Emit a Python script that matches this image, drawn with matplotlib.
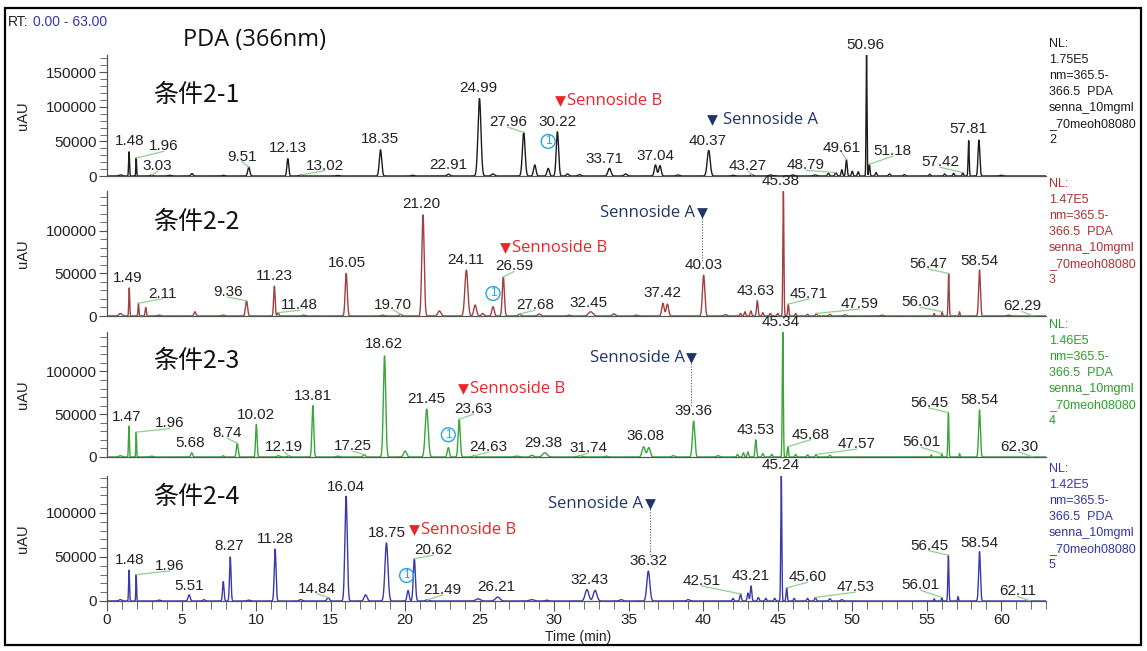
import matplotlib

matplotlib.use("Agg")
import matplotlib.pyplot as plt
import numpy as np
from matplotlib import patches

plt.rcParams["font.family"] = ["Liberation Sans", "DejaVu Sans"]

W_PX, H_PX = 1147, 651
T_MAX = 63.0

PANEL_NAMES = ["条件2-1", "条件2-2", "条件2-3", "条件2-4"]
NL = [1.75e5, 1.47e5, 1.46e5, 1.42e5]
NL_TEXT = ["1.75E5", "1.47E5", "1.46E5", "1.42E5"]
FILE_SUFFIX = ["2", "3", "4", "5"]
TRACE_COLORS = ["#1c1c1c", "#a04040", "#3aa53a", "#3a3aaa"]
INFO_COLORS = ["#1c1c1c", "#b03030", "#2aa02a", "#3535a8"]

# peaks: retention time (min), height (uAU), width (sigma, min)
P1_RT = [0.9, 1.48, 1.96, 3.0, 4.2, 5.7, 7.8, 9.51, 12.13, 13.0, 15.5, 18.35,
         20.5, 22.91, 24.99, 25.9, 27.96, 28.7, 29.6, 30.22, 30.9, 31.7,
         33.71, 34.8, 36.8, 37.1, 38.3, 40.37, 42.0, 43.27, 44.5, 46.0,
         47.5, 48.4, 48.9, 49.3, 49.61, 50.0, 50.4, 50.96, 51.15, 51.6,
         52.5, 53.5, 55.2, 56.2, 56.8, 57.42, 57.81, 58.5, 60.0]
P1_H = [1500, 35000, 26000, 1500, 1000, 3500, 1000, 13000, 25000, 1500, 800,
        38000, 1000, 2500, 112000, 3000, 63000, 16000, 11000, 64000, 3000,
        2000, 11000, 3000, 16000, 15000, 1500, 37000, 1000, 2000, 1500, 1500,
        1500, 4000, 5000, 9000, 24000, 7000, 6000, 175000, 17000, 5000, 3000,
        2000, 2500, 3000, 4000, 5000, 51000, 52000, 1000]
P1_W = [0.1, 0.03, 0.025, 0.08, 0.1, 0.07, 0.08, 0.07, 0.06, 0.08, 0.1, 0.08,
        0.1, 0.1, 0.1, 0.1, 0.09, 0.08, 0.08, 0.08, 0.08, 0.1, 0.1, 0.1,
        0.08, 0.08, 0.1, 0.1, 0.1, 0.08, 0.1, 0.1, 0.1, 0.06, 0.06, 0.05,
        0.05, 0.05, 0.05, 0.03, 0.04, 0.05, 0.06, 0.06, 0.05, 0.05, 0.05,
        0.04, 0.035, 0.06, 0.1]

P2_RT = [0.9, 1.49, 2.11, 2.6, 3.5, 5.9, 7.8, 9.36, 11.23, 11.48, 13.2, 16.05,
         18.5, 19.70, 21.20, 22.3, 24.11, 24.7, 25.2, 25.9, 26.59, 27.68,
         29.0, 31.0, 32.45, 34.0, 35.5, 37.3, 37.6, 40.03, 41.5, 42.5, 42.8,
         43.2, 43.63, 44.0, 44.5, 45.0, 45.38, 45.71, 46.2, 47.0, 47.59, 48.5,
         49.5, 52.0, 55.5, 56.03, 56.47, 57.2, 58.54, 60.5]
P2_H = [3000, 33000, 15000, 10000, 1000, 5000, 1000, 18000, 35000, 4000, 1000,
        50000, 1000, 2000, 119000, 6000, 54000, 13000, 3000, 11000, 46000,
        2500, 2500, 1000, 5000, 2500, 1000, 15000, 14000, 48000, 1500, 3000,
        5000, 6000, 18000, 4000, 3000, 3000, 147000, 14000, 3000, 2000, 3000,
        2000, 1500, 1000, 3000, 5000, 50000, 5000, 54000, 1000]
P2_W = [0.1, 0.03, 0.03, 0.04, 0.1, 0.06, 0.1, 0.07, 0.05, 0.05, 0.1, 0.07,
        0.1, 0.08, 0.08, 0.1, 0.1, 0.09, 0.08, 0.08, 0.07, 0.08, 0.1, 0.1,
        0.15, 0.1, 0.1, 0.08, 0.08, 0.08, 0.1, 0.05, 0.05, 0.05, 0.05, 0.05,
        0.05, 0.05, 0.035, 0.04, 0.04, 0.05, 0.05, 0.06, 0.08, 0.1, 0.03,
        0.03, 0.035, 0.03, 0.06, 0.1]

P3_RT = [0.9, 1.47, 1.96, 3.0, 5.68, 7.8, 8.74, 10.02, 11.5, 12.19, 13.81,
         15.5, 17.25, 18.62, 20.0, 21.45, 22.9, 23.63, 24.63, 27.5, 28.5,
         29.38, 31.74, 33.5, 36.0, 36.35, 38.0, 39.36, 41.0, 42.3, 42.7, 43.0,
         43.53, 44.0, 44.6, 45.34, 45.68, 46.2, 47.0, 47.57, 48.5, 55.3, 56.01,
         56.45, 57.2, 58.54]
P3_H = [1500, 36000, 29000, 1000, 5000, 1500, 16000, 38000, 1500, 1500, 60000,
        1000, 3000, 118000, 7000, 56000, 11000, 44000, 1500, 1000, 2000, 5000,
        1500, 1000, 12000, 11000, 1500, 42000, 1500, 3000, 5000, 6000, 20000,
        4000, 3000, 146000, 12000, 3000, 2500, 3000, 2000, 2500, 4000, 52000,
        4000, 55000]
P3_W = [0.1, 0.03, 0.025, 0.1, 0.06, 0.05, 0.06, 0.05, 0.1, 0.08, 0.06, 0.1,
        0.08, 0.08, 0.1, 0.1, 0.07, 0.07, 0.1, 0.15, 0.1, 0.15, 0.15, 0.1,
        0.1, 0.1, 0.1, 0.08, 0.1, 0.05, 0.05, 0.05, 0.05, 0.05, 0.05, 0.035,
        0.04, 0.04, 0.05, 0.05, 0.06, 0.03, 0.03, 0.035, 0.03, 0.06]

P4_RT = [0.9, 1.48, 1.96, 3.5, 5.51, 6.5, 7.8, 8.27, 9.5, 11.28, 13.0, 14.84,
         16.04, 17.35, 18.75, 20.2, 20.62, 21.49, 24.9, 26.21, 28.5, 29.5,
         32.2, 32.75, 34.5, 36.32, 39.0, 42.0, 42.51, 43.0, 43.21, 43.7, 44.2,
         44.8, 45.24, 45.60, 46.1, 47.0, 47.53, 48.5, 49.3, 55.5, 56.01, 56.45,
         57.1, 58.54]
P4_H = [1500, 35000, 30000, 1000, 7000, 1500, 22000, 50000, 1000, 59000, 1500,
        4000, 119000, 7000, 66000, 12000, 48000, 1500, 2500, 4500, 1500, 1000,
        13000, 12000, 1500, 34000, 1500, 3000, 8000, 9000, 17000, 4000, 3000,
        3000, 142000, 15000, 3000, 3000, 4000, 2500, 1500, 2500, 4000, 52000,
        5000, 56000]
P4_W = [0.1, 0.03, 0.025, 0.1, 0.07, 0.08, 0.05, 0.05, 0.1, 0.06, 0.1, 0.08,
        0.08, 0.1, 0.1, 0.07, 0.07, 0.1, 0.15, 0.15, 0.15, 0.1, 0.12, 0.12,
        0.1, 0.1, 0.1, 0.05, 0.05, 0.05, 0.05, 0.05, 0.05, 0.05, 0.035, 0.04,
        0.04, 0.05, 0.05, 0.06, 0.08, 0.03, 0.03, 0.035, 0.03, 0.06]

# peak labels: text, x (min), y bottom (uAU), drawn with a leader line
P1_LABELS = [("1.48", 1.5, 40000, False), ("1.96", 3.8, 33000, True),
             ("3.03", 3.4, 4000, True), ("9.51", 9.06, 18000, True),
             ("12.13", 12.15, 30000, False), ("13.02", 14.6, 5000, True),
             ("18.35", 18.3, 43000, False), ("22.91", 22.9, 6000, False),
             ("24.99", 24.9, 117000, False), ("27.96", 26.9, 68000, True),
             ("30.22", 30.2, 68000, False), ("33.71", 33.4, 15000, False),
             ("37.04", 36.8, 19000, False), ("40.37", 40.3, 40000, False),
             ("43.27", 43.0, 5000, True), ("48.79", 46.9, 5500, True),
             ("49.61", 49.3, 31000, True), ("50.96", 50.9, 180000, False),
             ("51.18", 52.7, 26000, True), ("57.42", 55.9, 10000, True),
             ("57.81", 57.8, 58000, False)]
P2_LABELS = [("1.49", 1.4, 36000, False), ("2.11", 3.7, 18000, True),
             ("9.36", 8.1, 20000, True), ("11.23", 11.25, 39000, False),
             ("11.48", 12.9, 4500, True), ("16.05", 16.1, 54000, False),
             ("19.70", 19.2, 5000, True), ("21.20", 21.1, 123000, False),
             ("24.11", 24.1, 58000, False), ("26.59", 27.3, 50000, True),
             ("27.68", 28.7, 4500, True), ("32.45", 32.3, 7000, False),
             ("37.42", 37.3, 19000, False), ("40.03", 40.0, 52000, False),
             ("43.63", 43.5, 21000, False), ("45.38", 45.2, 150000, False),
             ("45.71", 47.1, 18000, True), ("47.59", 50.5, 6000, True),
             ("56.03", 54.6, 8000, True), ("56.47", 55.1, 53000, True),
             ("58.54", 58.5, 57000, False), ("62.29", 61.4, 3000, True)]
P3_LABELS = [("1.47", 1.34, 39000, False), ("1.96", 4.2, 31000, True),
             ("5.68", 5.6, 8000, False), ("8.74", 8.06, 20000, True),
             ("10.02", 9.97, 41000, False), ("12.19", 11.9, 3500, True),
             ("13.81", 13.8, 63000, False), ("17.25", 16.5, 4500, True),
             ("18.62", 18.6, 124000, False), ("21.45", 21.4, 59000, False),
             ("23.63", 24.6, 48000, True), ("24.63", 25.6, 3500, True),
             ("29.38", 29.3, 8000, False), ("31.74", 32.3, 2500, True),
             ("36.08", 36.1, 16000, False), ("39.36", 39.36, 45000, False),
             ("43.53", 43.5, 23000, False), ("45.34", 45.2, 150000, False),
             ("45.68", 47.2, 18000, True), ("47.57", 50.3, 7000, True),
             ("56.01", 54.65, 9000, True), ("56.45", 55.15, 55000, True),
             ("58.54", 58.5, 58000, False), ("62.30", 61.2, 3500, True)]
P4_LABELS = [("1.48", 1.55, 39000, False), ("1.96", 4.2, 32000, True),
             ("5.51", 5.5, 9000, False), ("8.27", 8.2, 54000, False),
             ("11.28", 11.3, 63000, False), ("14.84", 14.1, 6000, True),
             ("16.04", 16.0, 122000, False), ("18.75", 18.8, 69000, False),
             ("20.62", 21.9, 50000, True), ("21.49", 22.5, 4500, True),
             ("26.21", 26.1, 7500, False), ("32.43", 32.35, 16000, False),
             ("36.32", 36.3, 38000, False), ("42.51", 39.9, 15000, True),
             ("43.21", 43.2, 21000, False), ("45.24", 45.2, 147000, False),
             ("45.60", 47.0, 19000, True), ("47.53", 50.2, 8000, True),
             ("56.01", 54.6, 10000, True), ("56.45", 55.15, 55000, True),
             ("58.54", 58.5, 58000, False), ("62.11", 61.1, 3000, True)]

# sennoside markers: triangle x, y; which side the text sits on
SENNOSIDE_B = [(30.4, 108000), (26.7, 80000), (23.9, 79000), (20.6, 81000)]
SENNOSIDE_A = [(40.6, 81000, "right"), (39.9, 121000, "left"),
               (39.2, 116000, "left"), (36.4, 110000, "left")]
SENNOSIDE_A_DROP = [None, 64000, 58000, 52000]  # dotted line end
PEAK_ONE = [(29.6, 50000), (25.9, 26500), (22.9, 26000), (20.1, 29000)]
NAME_POS = [(3.1, 117000), (3.1, 110000), (3.1, 112000), (3.1, 118000)]

# layout in pixels of the reference
AX_LEFT, AX_RIGHT = 107, 1046
BASELINES = [176, 316, 457, 601]
HEIGHTS = [121, 125, 125, 125]

PEAKS = [(P1_RT, P1_H, P1_W), (P2_RT, P2_H, P2_W),
         (P3_RT, P3_H, P3_W), (P4_RT, P4_H, P4_W)]
LABELS = [P1_LABELS, P2_LABELS, P3_LABELS, P4_LABELS]

RED = "#e8262a"
NAVY = "#1f3569"
CYAN = "#22a6e0"
LEADER = "#8fd08f"
LATIN = ["Open Sans", "DejaVu Sans"]


def chromatogram(t, rts, hs, ws):
    y = np.zeros_like(t)
    for rt, h, w in zip(rts, hs, ws):
        y += h * np.exp(-0.5 * ((t - rt) / w) ** 2)
    return y


fig = plt.figure(figsize=(W_PX / 100, H_PX / 100), dpi=100)
t = np.arange(0.0, T_MAX + 0.0001, 0.005)

for i in range(4):
    bottom = 1 - BASELINES[i] / H_PX
    ax = fig.add_axes([AX_LEFT / W_PX, bottom, (AX_RIGHT - AX_LEFT) / W_PX,
                       HEIGHTS[i] / H_PX])
    rts, hs, ws = PEAKS[i]
    y = chromatogram(t, rts, hs, ws)
    ax.plot(t, y, color=TRACE_COLORS[i], lw=1.0)
    ax.set_xlim(0, T_MAX)
    ax.set_ylim(0, NL[i])
    for side in ("top", "right"):
        ax.spines[side].set_visible(False)
    for side in ("left", "bottom"):
        ax.spines[side].set_color("#555555")
        ax.spines[side].set_linewidth(0.9)
    ax.patch.set_alpha(0)

    ax.set_yticks([v for v in (0, 50000, 100000, 150000) if v <= NL[i]])
    ax.set_yticks(np.arange(0, NL[i], 10000), minor=True)
    ax.tick_params(axis="y", which="major", direction="out", length=6,
                   width=0.8, labelsize=11, colors="#555555",
                   labelcolor="#222222", pad=1)
    ax.tick_params(axis="y", which="minor", direction="out", length=5,
                   width=0.6, colors="#555555")
    ax.set_ylabel("uAU", fontsize=10.5, color="#222222")
    ax.yaxis.set_label_coords((30 - AX_LEFT) / (AX_RIGHT - AX_LEFT), 0.5)

    if i == 3:
        ax.set_xticks(np.arange(0, 61, 5))
        ax.set_xticks(np.arange(0, 64, 1), minor=True)
        ax.tick_params(axis="x", which="major", direction="out", length=7,
                       width=0.8, labelsize=11, colors="#555555",
                       labelcolor="#222222", pad=2)
        ax.tick_params(axis="x", which="minor", direction="out", length=6,
                       width=0.6, colors="#555555")
    else:
        ax.set_xticks([])

    # peak labels with leader lines to the local apex
    for text, lx, ly, lead in LABELS[i]:
        ax.text(lx, ly, text, ha="center", va="bottom", fontsize=11,
                color="#222222", clip_on=False)
        if lead:
            tp = float(text)
            near = np.abs(t - tp) <= 0.15
            k = np.argmax(np.where(near, y, -1.0))
            ax.plot([t[k], lx], [y[k], ly + NL[i] * 0.015], color=LEADER,
                    lw=0.9, clip_on=False)

    # sample name
    nx, ny = NAME_POS[i]
    ax.text(nx, ny, PANEL_NAMES[i], ha="left", va="center", fontsize=18,
            family=["Noto Sans CJK SC", "DejaVu Sans"], color="#111111")

    # sennoside B
    bx, by = SENNOSIDE_B[i]
    ax.scatter([bx], [by], marker="v", s=60, color=RED, zorder=5,
               clip_on=False, linewidths=0)
    ax.text(bx + 0.45, by, "Sennoside B", ha="left", va="center",
            fontsize=12, color=RED, family=LATIN)

    # sennoside A
    sx, sy, side = SENNOSIDE_A[i]
    ax.scatter([sx], [sy], marker="v", s=60, color=NAVY, zorder=5,
               clip_on=False, linewidths=0)
    if side == "right":
        ax.text(sx + 0.7, sy, "Sennoside A", ha="left", va="center",
                fontsize=12, color=NAVY, family=LATIN)
    else:
        ax.text(sx - 0.45, sy, "Sennoside A", ha="right", va="center",
                fontsize=12, color=NAVY, family=LATIN)
    if SENNOSIDE_A_DROP[i] is not None:
        ax.plot([sx, sx], [sy - NL[i] * 0.04, SENNOSIDE_A_DROP[i]],
                ls=(0, (1, 1.5)), color="#555555", lw=0.8)

    # circled 1
    cx, cy = PEAK_ONE[i]
    ax.scatter([cx], [cy], marker="o", s=100, facecolors="none",
               edgecolors=CYAN, linewidths=1.0, zorder=5)
    ax.text(cx, cy, "1", ha="center", va="center", fontsize=8.5, color=CYAN)

    # instrument info block
    info = (f"NL:\n{NL_TEXT[i]}\nnm=365.5-\n366.5  PDA\nsenna_10mgml\n"
            f"_70meoh08080\n{FILE_SUFFIX[i]}")
    ax.text(1.0 + 3 / (AX_RIGHT - AX_LEFT), 138 / HEIGHTS[i], info,
            transform=ax.transAxes, ha="left", va="top", fontsize=9,
            color=INFO_COLORS[i], linespacing=1.45)

fig.text(578 / W_PX, 1 - 637 / H_PX, "Time (min)", ha="center",
         va="center", fontsize=10, color="#222222")
fig.text(8 / W_PX, 1 - 22 / H_PX, "RT:", ha="left", va="center",
         fontsize=10, color="#222222")
fig.text(33 / W_PX, 1 - 22 / H_PX, "0.00 - 63.00", ha="left", va="center",
         fontsize=10, color="#3535a8")
fig.text(183 / W_PX, 1 - 40 / H_PX, "PDA (366nm)", ha="left", va="center",
         fontsize=17, color="#111111", family=LATIN)

fig.add_artist(patches.Rectangle((5 / W_PX, 6 / H_PX), 1136 / W_PX,
                                 (645 - 8) / H_PX, transform=fig.transFigure,
                                 fill=False, lw=1.6, ec="black"))

fig.savefig("out.png", dpi=100)
